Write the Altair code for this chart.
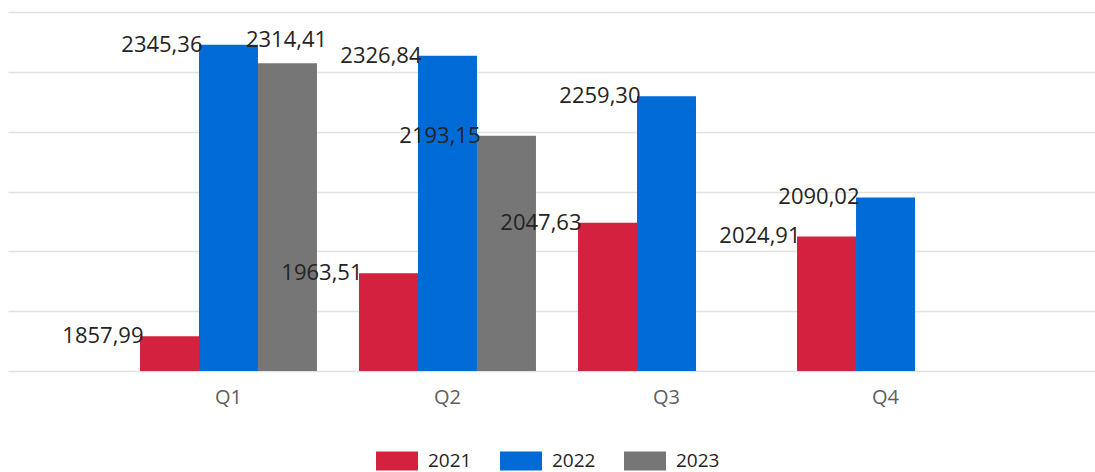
import altair as alt
import pandas as pd

QUARTERS = ["Q1", "Q2", "Q3", "Q4"]
YEARS = ["2021", "2022", "2023"]
V2021 = [1857.99, 1963.51, 2047.63, 2024.91]
V2022 = [2345.36, 2326.84, 2259.30, 2090.02]
V2023 = [2314.41, 2193.15, None, None]
GRID_VALUES = [1800, 1900, 2000, 2100, 2200, 2300, 2400]
COLORS = ["#D3213F", "#006BD6", "#767676"]

rows = []
for year, vals in zip(YEARS, [V2021, V2022, V2023]):
    for q, v in zip(QUARTERS, vals):
        if v is None:
            continue
        rows.append({"quarter": q, "year": year, "value": v,
                     "label": f"{v:.2f}".replace(".", ",")})
df = pd.DataFrame(rows)

FONT = "Segoe UI, Open Sans, sans-serif"
Y_MIN, Y_MAX = GRID_VALUES[0], GRID_VALUES[-1]

x = alt.X("quarter:N", sort=QUARTERS, title=None,
          scale=alt.Scale(domain=QUARTERS, paddingInner=0.192, paddingOuter=0.6027, range=[0, 1098]),
          axis=alt.Axis(labelAngle=0, domain=False, ticks=False, labelPadding=16,
                        labelFontSize=20, labelColor="#605E5C", labelFont=FONT, grid=False))
xo = alt.XOffset("year:N", scale=alt.Scale(domain=YEARS, paddingInner=0, paddingOuter=0))
y = alt.Y("value:Q", title=None,
          scale=alt.Scale(domain=[Y_MIN, Y_MAX], nice=False, zero=False),
          axis=alt.Axis(values=GRID_VALUES, labels=False, ticks=False, domain=False,
                        grid=True, gridColor="#E1E1E1", gridWidth=1.6))

base = alt.Chart(df)

bars = base.mark_bar().encode(
    x=x, xOffset=xo, y=y, y2=alt.datum(Y_MIN),
    color=alt.Color("year:N", scale=alt.Scale(domain=YEARS, range=COLORS),
                    legend=alt.Legend(title=None, orient="none", direction="horizontal",
                                      legendX=368, legendY=428, padding=0,
                                      symbolType="M-1,-0.45L1,-0.45L1,0.45L-1,0.45Z",
                                      symbolSize=1764, symbolStrokeWidth=0,
                                      labelFontSize=19, labelFont=FONT, labelColor="#252423",
                                      labelOffset=10, columnPadding=28)),
)

is_special = (alt.datum.quarter == "Q1") & (alt.datum.year == "2023")

labels = base.transform_filter(~is_special).mark_text(
    align="right", baseline="middle", dx=-26, fontSize=22, font=FONT, color="#252423"
).encode(x=x, xOffset=xo, y=y, text="label:N")

labels_special = base.transform_filter(is_special).mark_text(
    align="center", baseline="middle", dx=-1, dy=-23, fontSize=22, font=FONT, color="#252423"
).encode(x=x, xOffset=xo, y=y, text="label:N")

chart = alt.layer(bars, labels, labels_special).properties(
    width=1087, height=359,
    autosize=alt.AutoSizeParams(type="none"),
    padding={"left": 8, "top": 12, "right": 0, "bottom": 101},
).configure(
    background="white",
    view=alt.ViewConfig(stroke="transparent", strokeWidth=0),
)

chart.save("out.html", embed_options={"renderer": "svg", "actions": False})
